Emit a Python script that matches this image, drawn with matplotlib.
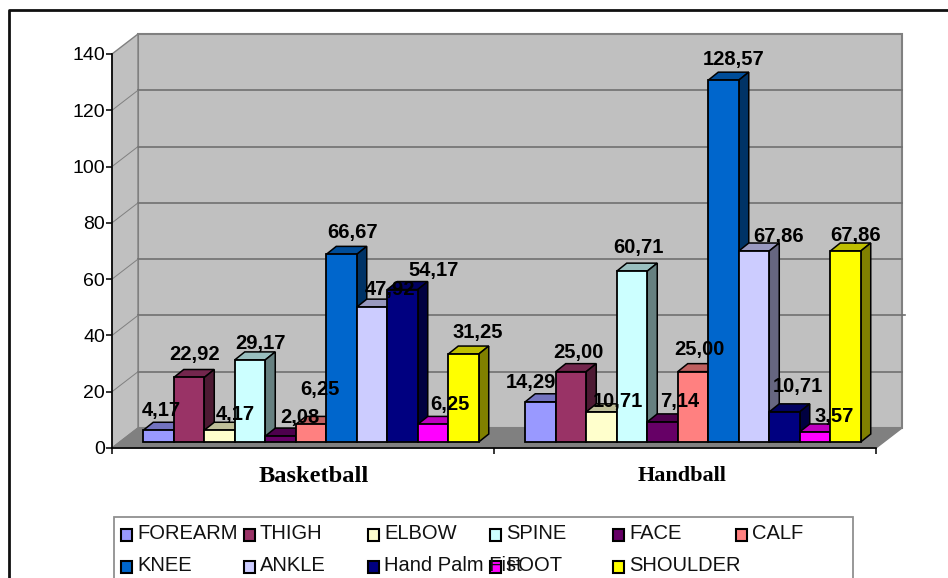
import matplotlib
matplotlib.use("Agg")
from matplotlib import pyplot as plt
from matplotlib.colors import to_rgb
from matplotlib.patches import Polygon, Rectangle

plt.rcParams['font.family'] = ['Liberation Sans', 'DejaVu Sans']

W, H = 948, 578

sports = ["Basketball", "Handball"]
parts = ["FOREARM", "THIGH", "ELBOW", "SPINE", "FACE", "CALF",
         "KNEE", "ANKLE", "Hand Palm Fist", "FOOT", "SHOULDER"]
basketball = [4.17, 22.92, 4.17, 29.17, 2.08, 6.25, 66.67, 47.92, 54.17, 6.25, 31.25]
handball = [14.29, 25.00, 10.71, 60.71, 7.14, 25.00, 128.57, 67.86, 10.71, 3.57, 67.86]
colors = ["#9999FF", "#993366", "#FFFFCC", "#CCFFFF", "#660066", "#FF8080",
          "#0066CC", "#CCCCFF", "#000080", "#FF00FF", "#FFFF00"]
y_ticks = [0, 20, 40, 60, 80, 100, 120, 140]

# hand placed data labels in the source chart, pixels from the bar's top centre
nudge_basket = [(3, 20), (6, 23), (16, 16), (10, 16), (19, 19), (9, 35),
                (11, 22), (18, 18), (31, 19), (17, 20), (14, 22)]
nudge_hand = [(-10, 19), (7, 19), (16, 10), (6, 24), (17, 20), (6, 22),
              (10, 21), (25, 15), (13, 25), (19, 15), (10, 16)]

# front plane of the 3d box, in pixels
AX_L, AX_R, AX_T, AX_B = 112, 876, 54, 448
PX_X = (AX_R - AX_L) / 2.0    # px per category
PX_Y = (AX_B - AX_T) / 140.0  # px per unit


def dx(px):
    return px / PX_X


def dy(px):
    return px / PX_Y


def shade(color, f):
    return tuple(c * f for c in to_rgb(color))


fig = plt.figure(figsize=(W / 100, H / 100), dpi=100, facecolor='white')
ax = fig.add_axes([AX_L / W, 1 - AX_B / H, (AX_R - AX_L) / W, (AX_B - AX_T) / H])
ax.set_xlim(0, 2)
ax.set_ylim(0, 140)
ax.patch.set_visible(False)

# walls and floor
wall_x, wall_y = dx(26), dy(20)
ax.add_patch(Polygon([(wall_x, wall_y), (2 + wall_x, wall_y), (2 + wall_x, 140 + wall_y), (wall_x, 140 + wall_y)],
                     fc='#C0C0C0', ec='#808080', lw=1.5, clip_on=False, zorder=1))
ax.add_patch(Polygon([(0, 0), (wall_x, wall_y), (wall_x, 140 + wall_y), (0, 140)],
                     fc='#C0C0C0', ec='#808080', lw=1, clip_on=False, zorder=1))
ax.add_patch(Polygon([(0, 0), (wall_x, wall_y), (2 + wall_x, wall_y), (2, 0)],
                     fc='#808080', ec='#808080', lw=1, clip_on=False, zorder=1))
for t in y_ticks[1:-1]:
    right = 2 + wall_x + (dx(3) if t == 40 else 0)
    ax.plot([wall_x, right], [t + wall_y, t + wall_y], color='#707070', lw=1.2, clip_on=False, zorder=2)
    ax.plot([0, wall_x], [t, t + wall_y], color='#808080', lw=0.7, clip_on=False, zorder=2)

# bars
BAR_W = dx(30.5)
BASE_X, BASE_Y = dx(8), dy(6)
DEPTH_X, DEPTH_Y = dx(10), dy(8)

for g, (values, nudges) in enumerate([(basketball, nudge_basket), (handball, nudge_hand)]):
    left = g + 0.5 + BASE_X - BAR_W * len(values) / 2
    for i, v in enumerate(values):
        x0 = left + i * BAR_W
        x1 = x0 + BAR_W
        top = BASE_Y + v
        z = 3 + i * 0.1
        ax.bar(x0, v, BAR_W, bottom=BASE_Y, align='edge', color=colors[i], edgecolor='black',
               linewidth=1.3, clip_on=False, zorder=z + 0.02)
        ax.add_patch(Polygon([(x0, top), (x0 + DEPTH_X, top + DEPTH_Y), (x1 + DEPTH_X, top + DEPTH_Y), (x1, top)],
                             fc=shade(colors[i], 0.75), ec='black', lw=1.1, clip_on=False, zorder=z))
        ax.add_patch(Polygon([(x1, BASE_Y), (x1 + DEPTH_X, BASE_Y + DEPTH_Y), (x1 + DEPTH_X, top + DEPTH_Y), (x1, top)],
                             fc=shade(colors[i], 0.5), ec='black', lw=1.1, clip_on=False, zorder=z))
        ax.text(x0 + BAR_W / 2 + dx(nudges[i][0]), top + dy(nudges[i][1]), f"{v:.2f}".replace('.', ','),
                ha='center', va='center', fontsize=14.5, fontweight='bold', color='black', zorder=10)

# axes
for side in ('top', 'right'):
    ax.spines[side].set_visible(False)
for side in ('left', 'bottom'):
    ax.spines[side].set_linewidth(1.2)
    ax.spines[side].set_zorder(5)
ax.set_yticks(y_ticks)
ax.set_xticks([0, 1, 2])
ax.set_xticklabels([])
ax.tick_params(axis='both', length=4.5, width=1.1)
ax.tick_params(axis='y', labelsize=14, pad=0.5)

ax.text(0.5 + dx(11), -dy(29), sports[0], family='Liberation Serif', fontweight='bold', fontsize=17.6,
        ha='center', va='center')
ax.text(1.5 + dx(-3), -dy(28), sports[1], family='Liberation Serif', fontweight='bold', fontsize=16,
        ha='center', va='center')

# overlay in pixel coordinates for the frame and the legend
over = fig.add_axes([0, 0, 1, 1], zorder=20)
over.set_xlim(0, W)
over.set_ylim(H, 0)
over.axis('off')
over.plot([9.5, 9.5, W], [H, 9.5, 9.5], color='#101010', lw=2)

over.add_patch(Rectangle((114.5, 517), 739, 70, fc='white', ec='#909090', lw=1.3))
leg_x = [121, 244, 368, 490, 613, 736]
leg_y = [529, 561]
for i, name in enumerate(parts):
    row, col = divmod(i, 6)
    over.add_patch(Rectangle((leg_x[col], leg_y[row]), 11.5, 11.5, fc=colors[i], ec='black', lw=1.5))
    over.text(leg_x[col] + 16, leg_y[row] + 4.5, name, fontsize=14.5, ha='left', va='center', color='#111111')

fig.savefig("out.png", dpi=100, facecolor='white')
